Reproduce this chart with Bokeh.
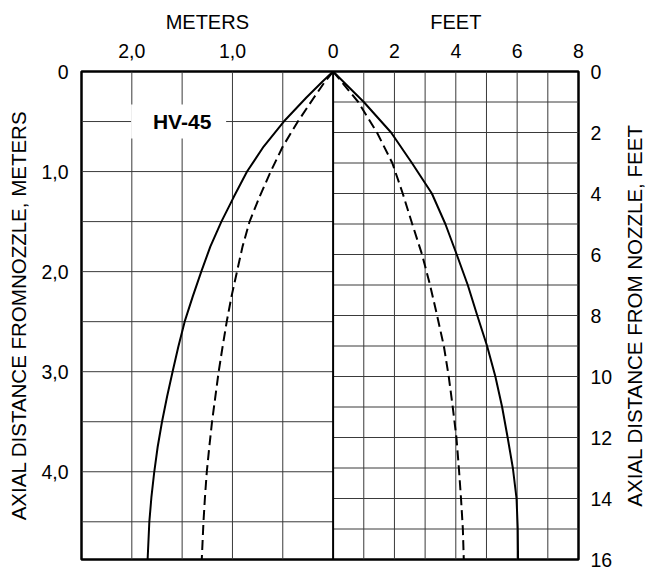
import math
from bokeh.plotting import figure
from bokeh.layouts import column, row
from bokeh.models import Range1d, LinearAxis, FixedTicker, Span
from bokeh.embed import file_html
from bokeh.resources import INLINE
from bokeh.core.properties import value

FT = 0.3048  # metres per foot

# ---- data ----
# left half, metres: axial distance vs radial width
m_depth = [0, 0.1, 0.26, 0.5, 0.75, 1.0, 1.25, 1.5, 1.75, 2.0, 2.25, 2.5, 2.75, 3.0,
           3.25, 3.5, 3.75, 4.0, 4.25, 4.5, 4.877]
m_solid = [0, 0.105, 0.265, 0.49, 0.69, 0.855, 0.985, 1.11, 1.22, 1.31, 1.395, 1.475, 1.538, 1.595,
           1.65, 1.70, 1.743, 1.777, 1.805, 1.826, 1.843]
m_dashed = [0, 0.08, 0.19, 0.35, 0.50, 0.62, 0.73, 0.83, 0.90, 0.955, 1.01, 1.057, 1.098, 1.137,
            1.17, 1.203, 1.23, 1.255, 1.273, 1.288, 1.305]

# right half, feet
ft_depth = [0, 1, 2, 3, 4, 5, 6, 7, 8, 9, 10, 11, 12, 13, 14, 15, 16]
ft_solid = [0, 1.0, 1.89, 2.57, 3.22, 3.66, 4.03, 4.39, 4.70, 5.02, 5.29, 5.51, 5.69, 5.86, 5.98, 6.02, 6.03]
ft_dashed = [0, 0.82, 1.43, 1.93, 2.27, 2.58, 2.90, 3.16, 3.39, 3.61, 3.77, 3.90, 4.02, 4.10, 4.17, 4.23, 4.26]

# axis extents, ticks and titles
m_x_max = 2.5
ft_x_max = 8
ft_y_max = 16
top_m_ticks = [2, 1, 0]
top_m_labels = ["2,0", "1,0", "0"]
top_ft_ticks = [2, 4, 6, 8]
top_ft_labels = ["2", "4", "6", "8"]
left_ticks = [0, 1, 2, 3, 4]
left_labels = ["0", "1,0", "2,0", "3,0", "4,0"]
right_ticks = [0, 2, 4, 6, 8, 10, 12, 14, 16]
right_labels = ["0", "2", "4", "6", "8", "10", "12", "14", "16"]
m_grid_step = 0.5
ft_grid_step = 1
unit_titles = ["METERS", "FEET"]
left_title = "AXIAL DISTANCE FROMNOZZLE, METERS"
right_title = "AXIAL DISTANCE FROM NOZZLE, FEET"
curve_name = "HV-45"

FONT = "Liberation Sans"
GRID_COLOR = "#3a3a3a"
TICK_SIZE = "19.5px"
TITLE_SIZE = "20px"
AXIS_TITLE_SIZE = "20.5px"

W_STRIP = 26
W_MAIN = 645 - W_STRIP
H_TOP = 34
H_MAIN = 571 - H_TOP
BL = 81
BR = W_MAIN - 578
BT = 37
BB = 12

x_m = Range1d(m_x_max, -ft_x_max * FT)
x_ft = Range1d(-m_x_max / FT, ft_x_max)


def bare(fig):
    fig.outline_line_color = None
    fig.background_fill_color = "white"
    fig.border_fill_color = "white"


# ---- strip with the unit titles above the chart ----
t = figure(width=W_MAIN, height=H_TOP, x_range=x_m, y_range=Range1d(0, H_TOP),
           x_axis_type=None, y_axis_type=None, toolbar_location=None, output_backend="svg",
           min_border_left=BL, min_border_right=BR, min_border_top=0, min_border_bottom=0)
bare(t)
t.extra_x_ranges = {"ft": x_ft}
t.text(x=[m_x_max / 2], y=[H_TOP - 21], text=[unit_titles[0]], text_font=value(FONT),
       text_font_size=TITLE_SIZE, text_align="center", text_baseline="middle", text_color="black")
t.text(x=[ft_x_max / 2], y=[H_TOP - 21], text=[unit_titles[1]], text_font=value(FONT),
       x_range_name="ft",
       text_font_size=TITLE_SIZE, text_align="center", text_baseline="middle", text_color="black")

# ---- main chart ----
p = figure(
    width=W_MAIN, height=H_MAIN,
    x_range=x_m, y_range=Range1d(ft_y_max * FT, 0),
    x_axis_type=None, y_axis_type=None,
    toolbar_location=None, output_backend="svg",
    min_border_left=BL, min_border_right=BR, min_border_top=BT, min_border_bottom=BB,
    background_fill_color="white", border_fill_color="white",
)
p.extra_x_ranges = {"ft": x_ft}
p.extra_y_ranges = {"ft": Range1d(ft_y_max, 0)}
p.outline_line_color = "black"
p.outline_line_width = 2.5

# grid lines: metres on the left half, feet on the right half
y_m_max = ft_y_max * FT
n_mx = int(round(m_x_max / m_grid_step))
n_my = int(y_m_max / m_grid_step)
mx = [m_grid_step * i for i in range(1, n_mx)]
my = [m_grid_step * i for i in range(1, n_my + 1)]
p.segment(x0=mx, x1=mx, y0=[0] * len(mx), y1=[y_m_max] * len(mx),
          line_color=GRID_COLOR, line_width=1)
p.segment(x0=[0] * len(my), x1=[m_x_max] * len(my), y0=my, y1=my,
          line_color=GRID_COLOR, line_width=1)
fx = list(range(ft_grid_step, ft_x_max, ft_grid_step))
fy = list(range(ft_grid_step, ft_y_max, ft_grid_step))
p.segment(x0=fx, x1=fx, y0=[0] * len(fx), y1=[ft_y_max] * len(fx),
          line_color=GRID_COLOR, line_width=1, x_range_name="ft", y_range_name="ft")
p.segment(x0=[0] * len(fy), x1=[ft_x_max] * len(fy), y0=fy, y1=fy,
          line_color=GRID_COLOR, line_width=1, x_range_name="ft", y_range_name="ft")

# HV-45 label on a white box
p.rect(x=[1.535], y=[0.5], width=95, height=34, width_units="screen", height_units="screen",
       fill_color="white", line_color=None)
p.text(x=[1.5], y=[0.5], text=[curve_name], text_font=value(FONT), text_font_style="bold",
       text_font_size="21px", text_align="center", text_baseline="middle", text_color="black")

# curves
p.line(m_solid, m_depth, line_color="black", line_width=2)
p.line(m_dashed, m_depth, line_color="black", line_width=2, line_dash="10 5")
p.line(ft_solid, ft_depth, line_color="black", line_width=2, x_range_name="ft", y_range_name="ft")
p.line(ft_dashed, ft_depth, line_color="black", line_width=2, line_dash="10 5",
       x_range_name="ft", y_range_name="ft")

p.add_layout(Span(location=0, dimension="height", line_color="black", line_width=2))


def style(ax):
    ax.axis_line_color = None
    ax.major_tick_line_color = None
    ax.minor_tick_line_color = None
    ax.major_tick_in = 0
    ax.major_tick_out = 0
    ax.minor_tick_in = 0
    ax.minor_tick_out = 0
    ax.major_label_text_font = FONT
    ax.major_label_text_font_size = TICK_SIZE
    ax.major_label_text_color = "black"
    ax.axis_label_text_font = FONT
    ax.axis_label_text_font_size = AXIS_TITLE_SIZE
    ax.axis_label_text_font_style = "normal"
    ax.axis_label_text_color = "black"


# top axis (metres on the left, feet on the right)
top_vals = [float(v) for v in top_m_ticks] + [-v * FT for v in top_ft_ticks]
top_over = {v: l for v, l in zip(top_vals, top_m_labels + top_ft_labels)}
top = LinearAxis(ticker=FixedTicker(ticks=top_vals), major_label_overrides=top_over)
style(top)
top.major_label_standoff = 14
p.add_layout(top, "above")

left = LinearAxis(ticker=FixedTicker(ticks=left_ticks),
                  major_label_overrides={float(v): l for v, l in zip(left_ticks, left_labels)},
                  axis_label=left_title)
style(left)
left.major_label_standoff = 13
left.axis_label_standoff = 8
p.add_layout(left, "left")

right = LinearAxis(y_range_name="ft", ticker=FixedTicker(ticks=right_ticks),
                   major_label_overrides={float(v): l for v, l in zip(right_ticks, right_labels)})
style(right)
right.major_label_standoff = 12
p.add_layout(right, "right")

# ---- strip with the right-hand axis title (reads bottom to top) ----
s = figure(width=W_STRIP, height=571, x_range=Range1d(0, W_STRIP), y_range=Range1d(ft_y_max, 0),
           x_axis_type=None, y_axis_type=None, toolbar_location=None, output_backend="svg",
           min_border_left=0, min_border_right=0, min_border_top=H_TOP + BT, min_border_bottom=BB)
bare(s)
s.text(x=[15], y=[ft_y_max / 2], text=[right_title], angle=math.pi / 2, text_font=value(FONT),
       text_font_size=AXIS_TITLE_SIZE, text_align="center", text_baseline="middle",
       text_color="black")

layout = row(column(t, p, spacing=0), s, spacing=0)
open("out.html", "w").write(file_html(layout, INLINE))
